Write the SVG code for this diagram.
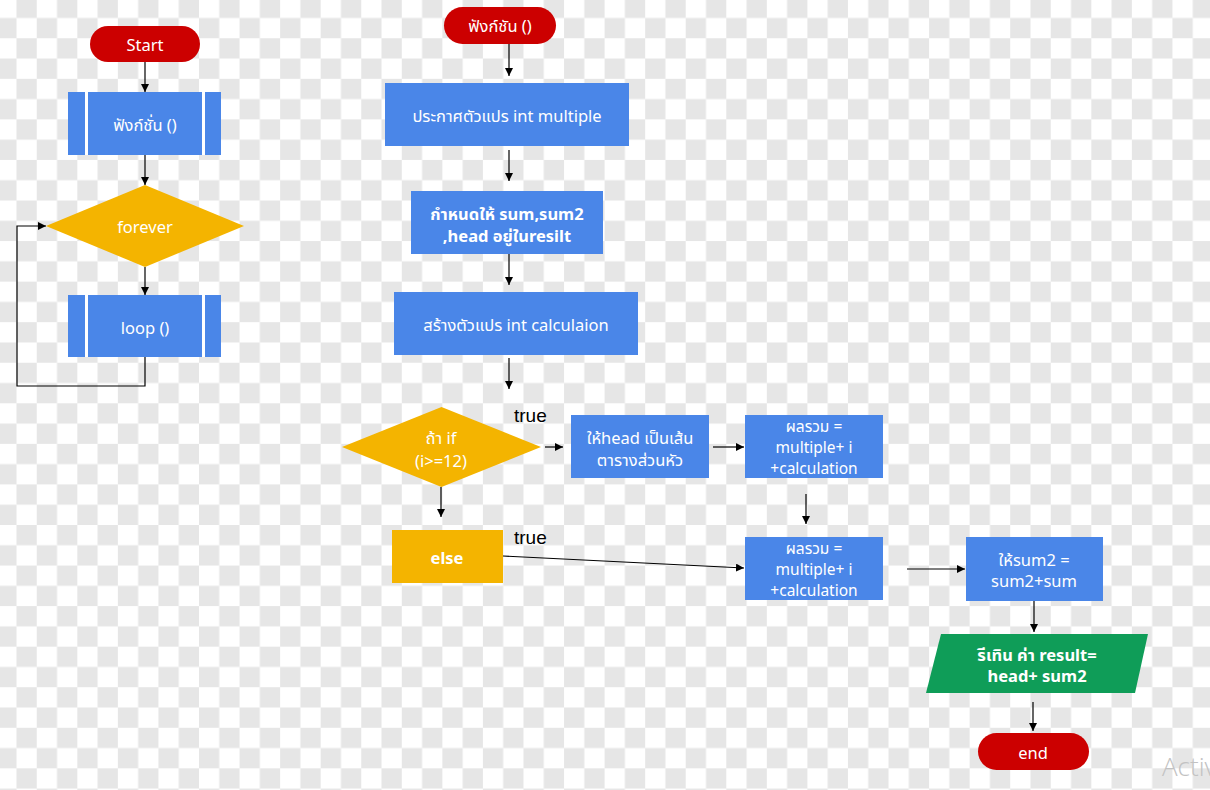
<svg xmlns="http://www.w3.org/2000/svg" width="1210" height="790" viewBox="0 0 1210 790">
  <defs>
    <pattern id="checker" patternUnits="userSpaceOnUse" x="-3.8" y="-2.3" width="40.56" height="40.56">
      <rect width="40.56" height="40.56" fill="#ffffff"/>
      <rect x="20.28" y="0" width="20.28" height="20.28" fill="#e6e6e6"/>
      <rect x="0" y="20.28" width="20.28" height="20.28" fill="#e6e6e6"/>
    </pattern>
    <marker id="arrow" viewBox="0 0 10 10" refX="10" refY="5" markerWidth="8" markerHeight="8" markerUnits="userSpaceOnUse" orient="auto">
      <path d="M0,0 L10,5 L0,10 z" fill="#000"/>
    </marker>
    <style>
      .t { font-family: "Noto Sans", "Noto Sans Thai", "DejaVu Sans", sans-serif; font-size: 16.5px; fill: #ffffff; text-anchor: middle; dominant-baseline: central; font-weight: normal; }
      .s { font-size: 15.5px; }
      .b { font-weight: bold; }
      .lbl { font-family: "Liberation Sans", Arial, sans-serif; font-size: 19px; fill: #000; }
      .blue { fill: #4a86e8; }
      .yellow { fill: #f4b400; }
      .red { fill: #cc0000; }
      .green { fill: #0f9d58; }
      .sub { stroke: #ffffff; stroke-width: 3; }
      .conn { fill: none; stroke: #000; stroke-width: 1.2; }
    </style>
  </defs>

  <rect width="1210" height="790" fill="url(#checker)"/>

  <!-- main program -->
  <g id="start">
    <rect class="red" x="90" y="26" width="110" height="36" rx="18"/>
    <text class="t" x="145" y="44">Start</text>
  </g>
  <g id="call-function">
    <rect class="blue" x="68" y="92" width="153" height="63"/>
    <line class="sub" x1="86.5" y1="92" x2="86.5" y2="155"/>
    <line class="sub" x1="203.5" y1="92" x2="203.5" y2="155"/>
    <text class="t" x="145" y="124">ฟังก์ชั่น ()</text>
  </g>
  <g id="forever">
    <polygon class="yellow" points="145,185 244,226 145,267 46,226"/>
    <text class="t" x="145" y="226">forever</text>
  </g>
  <g id="loop">
    <rect class="blue" x="68" y="295" width="153" height="62"/>
    <line class="sub" x1="86.5" y1="295" x2="86.5" y2="357"/>
    <line class="sub" x1="203.5" y1="295" x2="203.5" y2="357"/>
    <text class="t" x="145" y="327">loop ()</text>
  </g>

  <!-- function body -->
  <g id="function-start">
    <rect class="red" x="444" y="7" width="112" height="37" rx="18.5"/>
    <text class="t" x="500" y="25">ฟังก์ชัน ()</text>
  </g>
  <g id="declare-multiple">
    <rect class="blue" x="385" y="83" width="244" height="63"/>
    <text class="t" x="507" y="115">ประกาศตัวแปร int multiple</text>
  </g>
  <g id="assign-result">
    <rect class="blue" x="411" y="191" width="192" height="63"/>
    <text class="t b" x="507" y="213">กำหนดให้ sum,sum2</text>
    <text class="t b" x="507" y="235">,head อยู่ในresilt</text>
  </g>
  <g id="declare-calculation">
    <rect class="blue" x="394" y="292" width="244" height="63"/>
    <text class="t" x="516" y="324">สร้างตัวแปร int calculaion</text>
  </g>
  <g id="if-check">
    <polygon class="yellow" points="441.5,407 541,447 441.5,487 342,447"/>
    <text class="t" x="441" y="437">ถ้า if</text>
    <text class="t" x="441" y="460">(i&gt;=12)</text>
  </g>
  <g id="set-head">
    <rect class="blue" x="571" y="415" width="138" height="63"/>
    <text class="t" x="640" y="437">ให้head เป็นเส้น</text>
    <text class="t" x="640" y="459">ตารางส่วนหัว</text>
  </g>
  <g id="sum-1">
    <rect class="blue" x="745" y="415" width="138" height="63"/>
    <text class="t s" x="814" y="426">ผลรวม =</text>
    <text class="t s" x="814" y="447">multiple+ i</text>
    <text class="t s" x="814" y="468">+calculation</text>
  </g>
  <g id="else">
    <rect class="yellow" x="392" y="530" width="111" height="53"/>
    <text class="t b" x="447" y="557">else</text>
  </g>
  <g id="sum-2">
    <rect class="blue" x="745" y="537" width="138" height="63"/>
    <text class="t s" x="814" y="548">ผลรวม =</text>
    <text class="t s" x="814" y="569">multiple+ i</text>
    <text class="t s" x="814" y="590">+calculation</text>
  </g>
  <g id="update-sum2">
    <rect class="blue" x="966" y="537" width="137" height="64"/>
    <text class="t" x="1034" y="559">ให้sum2 =</text>
    <text class="t" x="1034" y="580">sum2+sum</text>
  </g>
  <g id="return-result">
    <polygon class="green" points="941,634 1148,634 1135,693 926,693"/>
    <text class="t b" x="1037" y="654">รีเทิน ค่า result=</text>
    <text class="t b" x="1037" y="675">head+ sum2</text>
  </g>
  <g id="end">
    <rect class="red" x="978" y="733" width="111" height="37" rx="18.5"/>
    <text class="t" x="1033" y="752">end</text>
  </g>

  <!-- branch labels -->
  <text class="lbl" x="514" y="422">true</text>
  <text class="lbl" x="514" y="544">true</text>

  <!-- connectors -->
  <g id="connectors">
    <line class="conn" x1="145" y1="62" x2="145" y2="92" marker-end="url(#arrow)"/>
    <line class="conn" x1="145" y1="155" x2="145" y2="185" marker-end="url(#arrow)"/>
    <line class="conn" x1="145" y1="267" x2="145" y2="295" marker-end="url(#arrow)"/>
    <polyline class="conn" points="145,357 145,386 17,386 17,226 46,226" marker-end="url(#arrow)"/>

    <line class="conn" x1="509" y1="44" x2="509" y2="76" marker-end="url(#arrow)"/>
    <line class="conn" x1="509" y1="150" x2="509" y2="181" marker-end="url(#arrow)"/>
    <line class="conn" x1="509" y1="254" x2="509" y2="285" marker-end="url(#arrow)"/>
    <line class="conn" x1="509" y1="358" x2="509" y2="389" marker-end="url(#arrow)"/>
    <line class="conn" x1="545" y1="447" x2="563" y2="447" marker-end="url(#arrow)"/>
    <line class="conn" x1="713" y1="447" x2="744" y2="447" marker-end="url(#arrow)"/>
    <line class="conn" x1="806" y1="494" x2="806" y2="524" marker-end="url(#arrow)"/>
    <line class="conn" x1="441" y1="487" x2="441" y2="517" marker-end="url(#arrow)"/>
    <line class="conn" x1="503" y1="556" x2="744" y2="568" marker-end="url(#arrow)"/>
    <line class="conn" x1="907" y1="569" x2="965" y2="569" marker-end="url(#arrow)"/>
    <line class="conn" x1="1034" y1="601" x2="1034" y2="632" marker-end="url(#arrow)"/>
    <line class="conn" x1="1033" y1="702" x2="1033" y2="731" marker-end="url(#arrow)"/>
  </g>

  <text x="1162" y="776" font-family="Open Sans, Noto Sans, sans-serif" font-size="26" font-weight="300" fill="#c2c2c2">Activ</text>
</svg>
